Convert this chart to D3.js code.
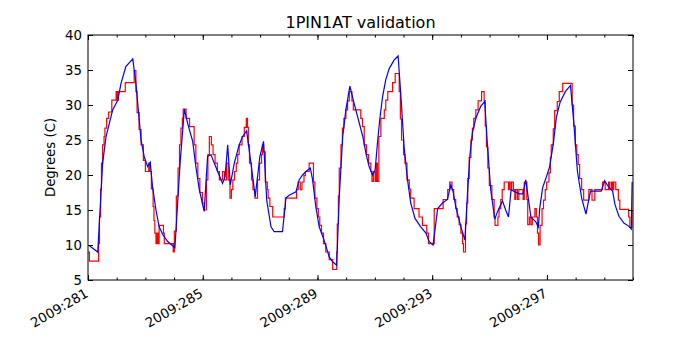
<!DOCTYPE html>
<html>
<head>
<meta charset="utf-8">
<script src="https://cdn.jsdelivr.net/npm/d3@7"></script>
<style>
  body { margin: 0; background: #fff; }
  text { font-family: "DejaVu Sans", sans-serif; }
</style>
</head>
<body>
<script>
// model run (blue): day of year 2009 / degrees C
var modelDay = [281.05, 281.34, 281.51, 281.63, 281.86, 282.04, 282.15, 282.32, 282.56, 282.67,
  282.85, 282.96, 283.08, 283.17, 283.25, 283.37, 283.48, 283.62, 283.78, 284.03,
  284.21, 284.36, 284.47, 284.65, 284.76, 284.88, 285.05, 285.17, 285.29, 285.40,
  285.55, 285.69, 285.78, 285.87, 285.96, 286.10, 286.27, 286.39, 286.53, 286.68,
  286.83, 286.99, 287.12, 287.23, 287.38, 287.49, 287.78, 287.90, 288.01, 288.25,
  288.36, 288.48, 288.60, 288.75, 288.83, 288.94, 289.06, 289.23, 289.41, 289.53,
  289.67, 289.76, 289.88, 289.99, 290.13, 290.28, 290.40, 290.58, 290.69, 290.80,
  290.92, 291.01, 291.09, 291.17, 291.27, 291.38, 291.50, 291.67, 291.81, 291.91,
  292.02, 292.14, 292.25, 292.40, 292.60, 292.78, 292.89, 293.03, 293.19, 293.36,
  293.53, 293.65, 293.73, 293.82, 294.00, 294.14, 294.23, 294.31, 294.40, 294.52,
  294.69, 294.83, 294.93, 295.04, 295.18, 295.28, 295.45, 295.56, 295.66, 295.75,
  295.84, 296.03, 296.16, 296.26, 296.36, 296.44, 296.61, 296.70, 296.75, 296.85,
  296.97, 297.09, 297.22, 297.33, 297.46, 297.64, 297.82, 297.94, 298.06, 298.21,
  298.36, 298.45, 298.52, 298.89, 299.01, 299.13, 299.29, 299.37, 299.51, 299.69,
  299.85, 299.94, 299.97]
var modelTemp = [9.9, 9.0, 21.7, 25.5, 29.3, 30.7, 33.1, 35.5, 36.6, 33.1,
  25.0, 22.6, 21.2, 21.8, 18.3, 15.0, 12.6, 11.4, 10.5, 9.6,
  21.7, 29.4, 27.4, 24.8, 21.2, 17.9, 14.8, 22.7, 22.9, 21.7,
  20.2, 18.8, 19.8, 24.3, 18.6, 21.7, 24.3, 25.5, 26.3, 21.7,
  16.9, 22.6, 24.8, 16.4, 12.6, 11.9, 11.9, 16.7, 17.1, 17.6,
  19.3, 20.0, 20.5, 21.0, 19.3, 15.5, 12.6, 10.7, 8.3, 7.6,
  7.1, 16.9, 25.5, 29.3, 32.7, 30.2, 28.3, 25.5, 23.1, 21.2,
  20.0, 20.7, 24.5, 27.9, 31.2, 33.6, 35.2, 36.4, 37.0, 31.2,
  24.0, 19.3, 16.0, 13.8, 12.6, 11.7, 10.5, 10.0, 15.2, 16.0,
  16.5, 18.6, 17.6, 15.5, 12.6, 10.7, 17.4, 22.6, 26.0, 28.1,
  29.8, 30.5, 24.0, 17.9, 13.7, 14.8, 16.3, 15.0, 14.0, 17.9,
  17.7, 17.3, 17.3, 19.3, 16.4, 14.0, 13.3, 12.6, 15.3, 18.2,
  19.6, 21.1, 24.4, 28.3, 30.4, 31.9, 32.8, 27.3, 20.6, 16.7,
  14.4, 16.3, 17.7, 17.7, 19.2, 18.4, 17.7, 15.8, 14.1, 13.1,
  12.7, 12.3, 19.0]

// observed (red), stepped readings: day where each level starts / degrees C
var obsDay = [281.00, 281.05, 281.37, 281.40, 281.44, 281.47, 281.51, 281.56, 281.59, 281.65,
  281.72, 281.83, 281.98, 282.02, 282.06, 282.30, 282.61, 282.67, 282.71, 282.78,
  282.85, 282.93, 283.00, 283.12, 283.16, 283.21, 283.27, 283.30, 283.33, 283.37,
  283.41, 283.45, 283.48, 283.63, 283.66, 283.97, 284.01, 284.08, 284.14, 284.19,
  284.24, 284.29, 284.32, 284.42, 284.54, 284.70, 284.76, 284.83, 284.90, 284.99,
  285.05, 285.13, 285.18, 285.23, 285.30, 285.36, 285.43, 285.51, 285.58, 285.69,
  285.76, 285.83, 285.89, 285.95, 286.00, 286.05, 286.11, 286.17, 286.22, 286.27,
  286.37, 286.45, 286.52, 286.56, 286.59, 286.63, 286.70, 286.75, 286.82, 286.91,
  286.98, 287.05, 287.08, 287.12, 287.18, 287.25, 287.28, 287.34, 287.44, 287.84,
  287.88, 288.27, 288.33, 288.40, 288.46, 288.53, 288.58, 288.71, 288.86, 288.91,
  288.98, 289.03, 289.08, 289.14, 289.21, 289.29, 289.41, 289.53, 289.67, 289.69,
  289.73, 289.76, 289.82, 289.87, 289.92, 289.99, 290.05, 290.11, 290.20, 290.25,
  290.51, 290.57, 290.63, 290.71, 290.78, 290.86, 290.90, 290.95, 291.01, 291.05,
  291.09, 291.14, 291.21, 291.33, 291.38, 291.45, 291.62, 291.71, 291.85, 291.89,
  291.93, 292.00, 292.05, 292.12, 292.20, 292.25, 292.37, 292.54, 292.66, 292.81,
  292.87, 293.07, 293.38, 293.54, 293.61, 293.69, 293.75, 293.82, 293.87, 293.94,
  294.00, 294.06, 294.09, 294.16, 294.20, 294.24, 294.29, 294.35, 294.40, 294.45,
  294.52, 294.60, 294.72, 294.81, 294.85, 294.89, 294.94, 294.99, 295.08, 295.16,
  295.19, 295.29, 295.33, 295.39, 295.44, 295.51, 295.66, 295.69, 295.74, 295.77,
  295.83, 295.88, 295.91, 295.97, 296.02, 296.17, 296.21, 296.30, 296.33, 296.39,
  296.44, 296.49, 296.58, 296.63, 296.67, 296.71, 296.76, 296.83, 296.88, 296.94,
  296.99, 297.07, 297.12, 297.15, 297.22, 297.27, 297.36, 297.43, 297.55, 297.88,
  297.93, 297.99, 298.04, 298.09, 298.14, 298.21, 298.28, 298.46, 298.57, 298.67,
  298.94, 299.03, 299.15, 299.19, 299.25, 299.29, 299.33, 299.40, 299.49, 299.54,
  299.85, 299.89, 299.96]
var obsTemp = [9.0, 7.7, 10.2, 14.0, 18.0, 21.7, 24.3, 25.5, 26.7, 28.1,
  29.0, 30.7, 31.9, 30.7, 31.9, 33.2, 34.9, 31.9, 28.9, 26.5,
  24.3, 22.1, 20.5, 21.7, 20.5, 18.0, 15.5, 13.5, 11.7, 10.2,
  11.7, 10.2, 12.8, 11.7, 10.2, 9.0, 12.0, 17.0, 21.0, 24.3,
  26.7, 28.1, 29.4, 28.1, 26.9, 24.3, 21.7, 19.5, 17.5, 16.0,
  15.0, 19.3, 22.9, 25.5, 24.3, 22.9, 21.7, 20.5, 19.3, 20.5,
  19.3, 21.7, 19.3, 16.7, 17.9, 19.3, 20.5, 21.7, 22.9, 24.3,
  25.5, 26.8, 28.1, 26.8, 24.3, 21.7, 19.3, 17.9, 16.7, 19.3,
  21.7, 22.9, 24.3, 23.3, 19.0, 17.9, 16.7, 15.5, 14.0, 15.2,
  16.7, 17.9, 19.0, 17.9, 19.0, 19.9, 20.5, 21.7, 19.0, 16.7,
  15.2, 14.0, 12.8, 11.7, 10.2, 9.0, 7.9, 6.5, 9.0, 13.0,
  17.0, 21.0, 24.3, 26.7, 28.1, 29.3, 30.6, 31.9, 30.6, 29.3,
  28.1, 26.9, 24.3, 22.9, 21.7, 20.5, 19.1, 20.5, 19.1, 21.7,
  19.1, 25.5, 28.1, 29.3, 30.7, 31.9, 33.2, 34.5, 31.9, 28.0,
  25.0, 22.9, 21.7, 19.3, 18.0, 16.7, 15.2, 14.0, 12.8, 11.7,
  10.2, 15.2, 16.5, 17.9, 19.0, 17.9, 16.5, 15.2, 14.0, 12.9,
  11.7, 10.2, 9.0, 13.0, 16.0, 19.5, 22.5, 25.0, 26.7, 28.1,
  29.3, 30.6, 31.9, 30.6, 27.0, 24.0, 21.0, 18.5, 16.5, 14.0,
  12.8, 14.0, 15.2, 16.5, 17.9, 19.0, 17.9, 19.0, 17.9, 19.0,
  17.9, 16.5, 17.9, 16.5, 17.9, 16.5, 19.0, 16.5, 12.9, 14.0,
  12.9, 14.0, 15.2, 14.0, 11.7, 10.0, 12.8, 15.2, 16.4, 17.9,
  19.0, 20.3, 22.5, 24.3, 26.6, 29.2, 30.5, 31.9, 33.1, 30.0,
  27.0, 24.3, 22.9, 21.5, 19.5, 17.9, 16.4, 17.9, 16.4, 17.9,
  19.0, 17.9, 19.0, 17.9, 19.0, 17.9, 19.0, 17.9, 16.4, 15.1,
  14.0, 12.5, 15.0]

var xMajor = [281, 285, 289, 293, 297]
var yTicks = [5, 10, 15, 20, 25, 30, 35, 40]

var width = 700,
    height = 350
var margin = {top: 35, right: 67, bottom: 70, left: 88}
var plotW = width - margin.left - margin.right,
    plotH = height - margin.top - margin.bottom

var x = d3.scaleLinear().domain([281, 300]).range([0, plotW])
var y = d3.scaleLinear().domain([5, 40]).range([plotH, 0])

var svg = d3.select("body").append("svg")
    .attr("width", width)
    .attr("height", height)

svg.append("rect").attr("width", width).attr("height", height).attr("fill", "#fff")

var g = svg.append("g")
    .attr("transform", `translate(${margin.left},${margin.top})`)

g.append("clipPath").attr("id", "plot-clip")
    .append("rect").attr("width", plotW).attr("height", plotH)

var obs = obsDay.map((d, i) => [d, obsTemp[i]])
var model = modelDay.map((d, i) => [d, modelTemp[i]])

var lines = g.append("g").attr("clip-path", "url(#plot-clip)")

lines.append("path")
    .datum(obs)
    .attr("fill", "none")
    .attr("stroke", "#ff0000")
    .attr("stroke-width", 1.2)
    .attr("d", d3.line().x(d => x(d[0])).y(d => y(d[1])).curve(d3.curveStepAfter))

lines.append("path")
    .datum(model)
    .attr("fill", "none")
    .attr("stroke", "#0000ff")
    .attr("stroke-width", 1.2)
    .attr("d", d3.line().x(d => x(d[0])).y(d => y(d[1])))

// inward ticks on all four sides, matplotlib style
var minorDays = d3.range(281, 301)

function ticks(axis, values, size, labels) {
    return axis.tickValues(values).tickSize(-size).tickSizeOuter(0)
        .tickFormat(labels ? labels : "")
}

g.append("g").attr("transform", `translate(0,${plotH})`)
    .call(ticks(d3.axisBottom(x), minorDays, 2.5))
var bottomMajor = g.append("g").attr("transform", `translate(0,${plotH})`)
    .call(ticks(d3.axisBottom(x), xMajor, 5, d => "2009:" + d))
g.append("g").call(ticks(d3.axisTop(x), minorDays, 2.5))
g.append("g").call(ticks(d3.axisTop(x), xMajor, 5))
var left = g.append("g").call(ticks(d3.axisLeft(y), yTicks, 5, d => d).tickPadding(6))
g.append("g").attr("transform", `translate(${plotW},0)`)
    .call(ticks(d3.axisRight(y), yTicks, 5))

g.selectAll(".domain").remove()
g.selectAll(".tick line").attr("stroke", "#000").attr("stroke-width", 1)

left.selectAll("text")
    .attr("font-size", "13.3px")
    .attr("fill", "#000")

bottomMajor.selectAll("text")
    .attr("font-size", "13.3px")
    .attr("fill", "#000")
    .attr("text-anchor", "end")
    .attr("x", 0).attr("y", 0).attr("dy", "0.7em")
    .attr("transform", "translate(-4,8) rotate(-30)")

g.append("rect")
    .attr("width", plotW)
    .attr("height", plotH)
    .attr("fill", "none")
    .attr("stroke", "#000")
    .attr("stroke-width", 1)

svg.append("text")
    .attr("x", margin.left + plotW / 2)
    .attr("y", 28)
    .attr("text-anchor", "middle")
    .attr("font-size", "16px")
    .text("1PIN1AT validation")

svg.append("text")
    .attr("transform", `translate(55,${margin.top + plotH / 2}) rotate(-90)`)
    .attr("text-anchor", "middle")
    .attr("font-size", "13.3px")
    .text("Degrees (C)")
</script>
</body>
</html>
